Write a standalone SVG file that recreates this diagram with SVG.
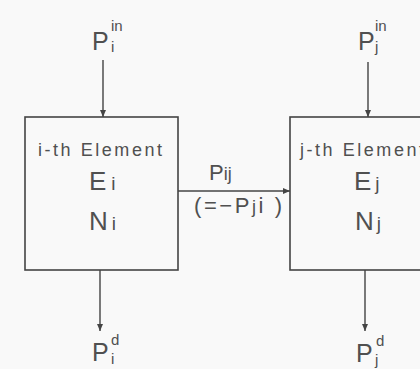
<svg xmlns="http://www.w3.org/2000/svg" width="420" height="369" viewBox="0 0 420 369">
<defs>
<style>
.box{fill:none;stroke:#444;stroke-width:1.6}
.ln{stroke:#444;stroke-width:1.4;fill:none;marker-end:url(#ah)}
text{font-family:"Liberation Sans","DejaVu Sans",sans-serif;fill:#505050}
.lbl{font-size:18px}
.big{font-size:26px}
.sub{font-size:19px}
.p{font-size:25px}
.sup{font-size:15px}
.mid{font-size:22px}
</style>
<marker id="ah" markerWidth="8" markerHeight="10" refX="7" refY="5" orient="auto" markerUnits="userSpaceOnUse">
<path d="M0,2 L7,5 L0,8 Z" fill="#444"/>
</marker>
</defs>
<rect width="420" height="369" fill="#f9f9f9"/>
<g id="connectors">
<line class="ln" x1="103" y1="60" x2="103" y2="117"/>
<line class="ln" x1="368" y1="62" x2="368" y2="117"/>
<line class="ln" x1="178" y1="191" x2="290" y2="191"/>
<line class="ln" x1="100" y1="270" x2="100" y2="331"/>
<line class="ln" x1="365" y1="270" x2="365" y2="331"/>
</g>
<g id="element-i">
<rect class="box" x="25" y="117" width="153" height="153"/>
<text class="lbl" x="38" y="156" textLength="124">i-th Element</text>
<text class="big" x="89" y="190">E<tspan class="sub" dx="5">i</tspan></text>
<text class="big" x="89" y="230">N<tspan class="sub" dx="4">i</tspan></text>
</g>
<g id="element-j">
<rect class="box" x="290" y="117" width="150" height="153"/>
<text class="lbl" x="300" y="156" textLength="124">j-th Element</text>
<text class="big" x="354" y="190">E<tspan class="sub" dx="4">j</tspan></text>
<text class="big" x="355" y="230">N<tspan class="sub" dx="3">j</tspan></text>
</g>
<g id="flow-ij">
<text class="mid" x="209" y="180">P<tspan font-size="18">ij</tspan></text>
<text class="mid" x="194" y="213" textLength="88">(=−P<tspan font-size="18">j</tspan>i )</text>
</g>
<g id="input-i">
<text class="p" x="92" y="50">P</text>
<text class="sup" x="111" y="31">in</text>
<text class="sup" x="111" y="52">i</text>
</g>
<g id="input-j">
<text class="p" x="358" y="50">P</text>
<text class="sup" x="375" y="31">in</text>
<text class="sup" x="375" y="52">j</text>
</g>
<g id="output-i">
<text class="p" x="92" y="361">P</text>
<text class="sup" x="111" y="345">d</text>
<text class="sup" x="111" y="364">i</text>
</g>
<g id="output-j">
<text class="p" x="356" y="362">P</text>
<text class="sup" x="376" y="346">d</text>
<text class="sup" x="375" y="365">j</text>
</g>
</svg>
